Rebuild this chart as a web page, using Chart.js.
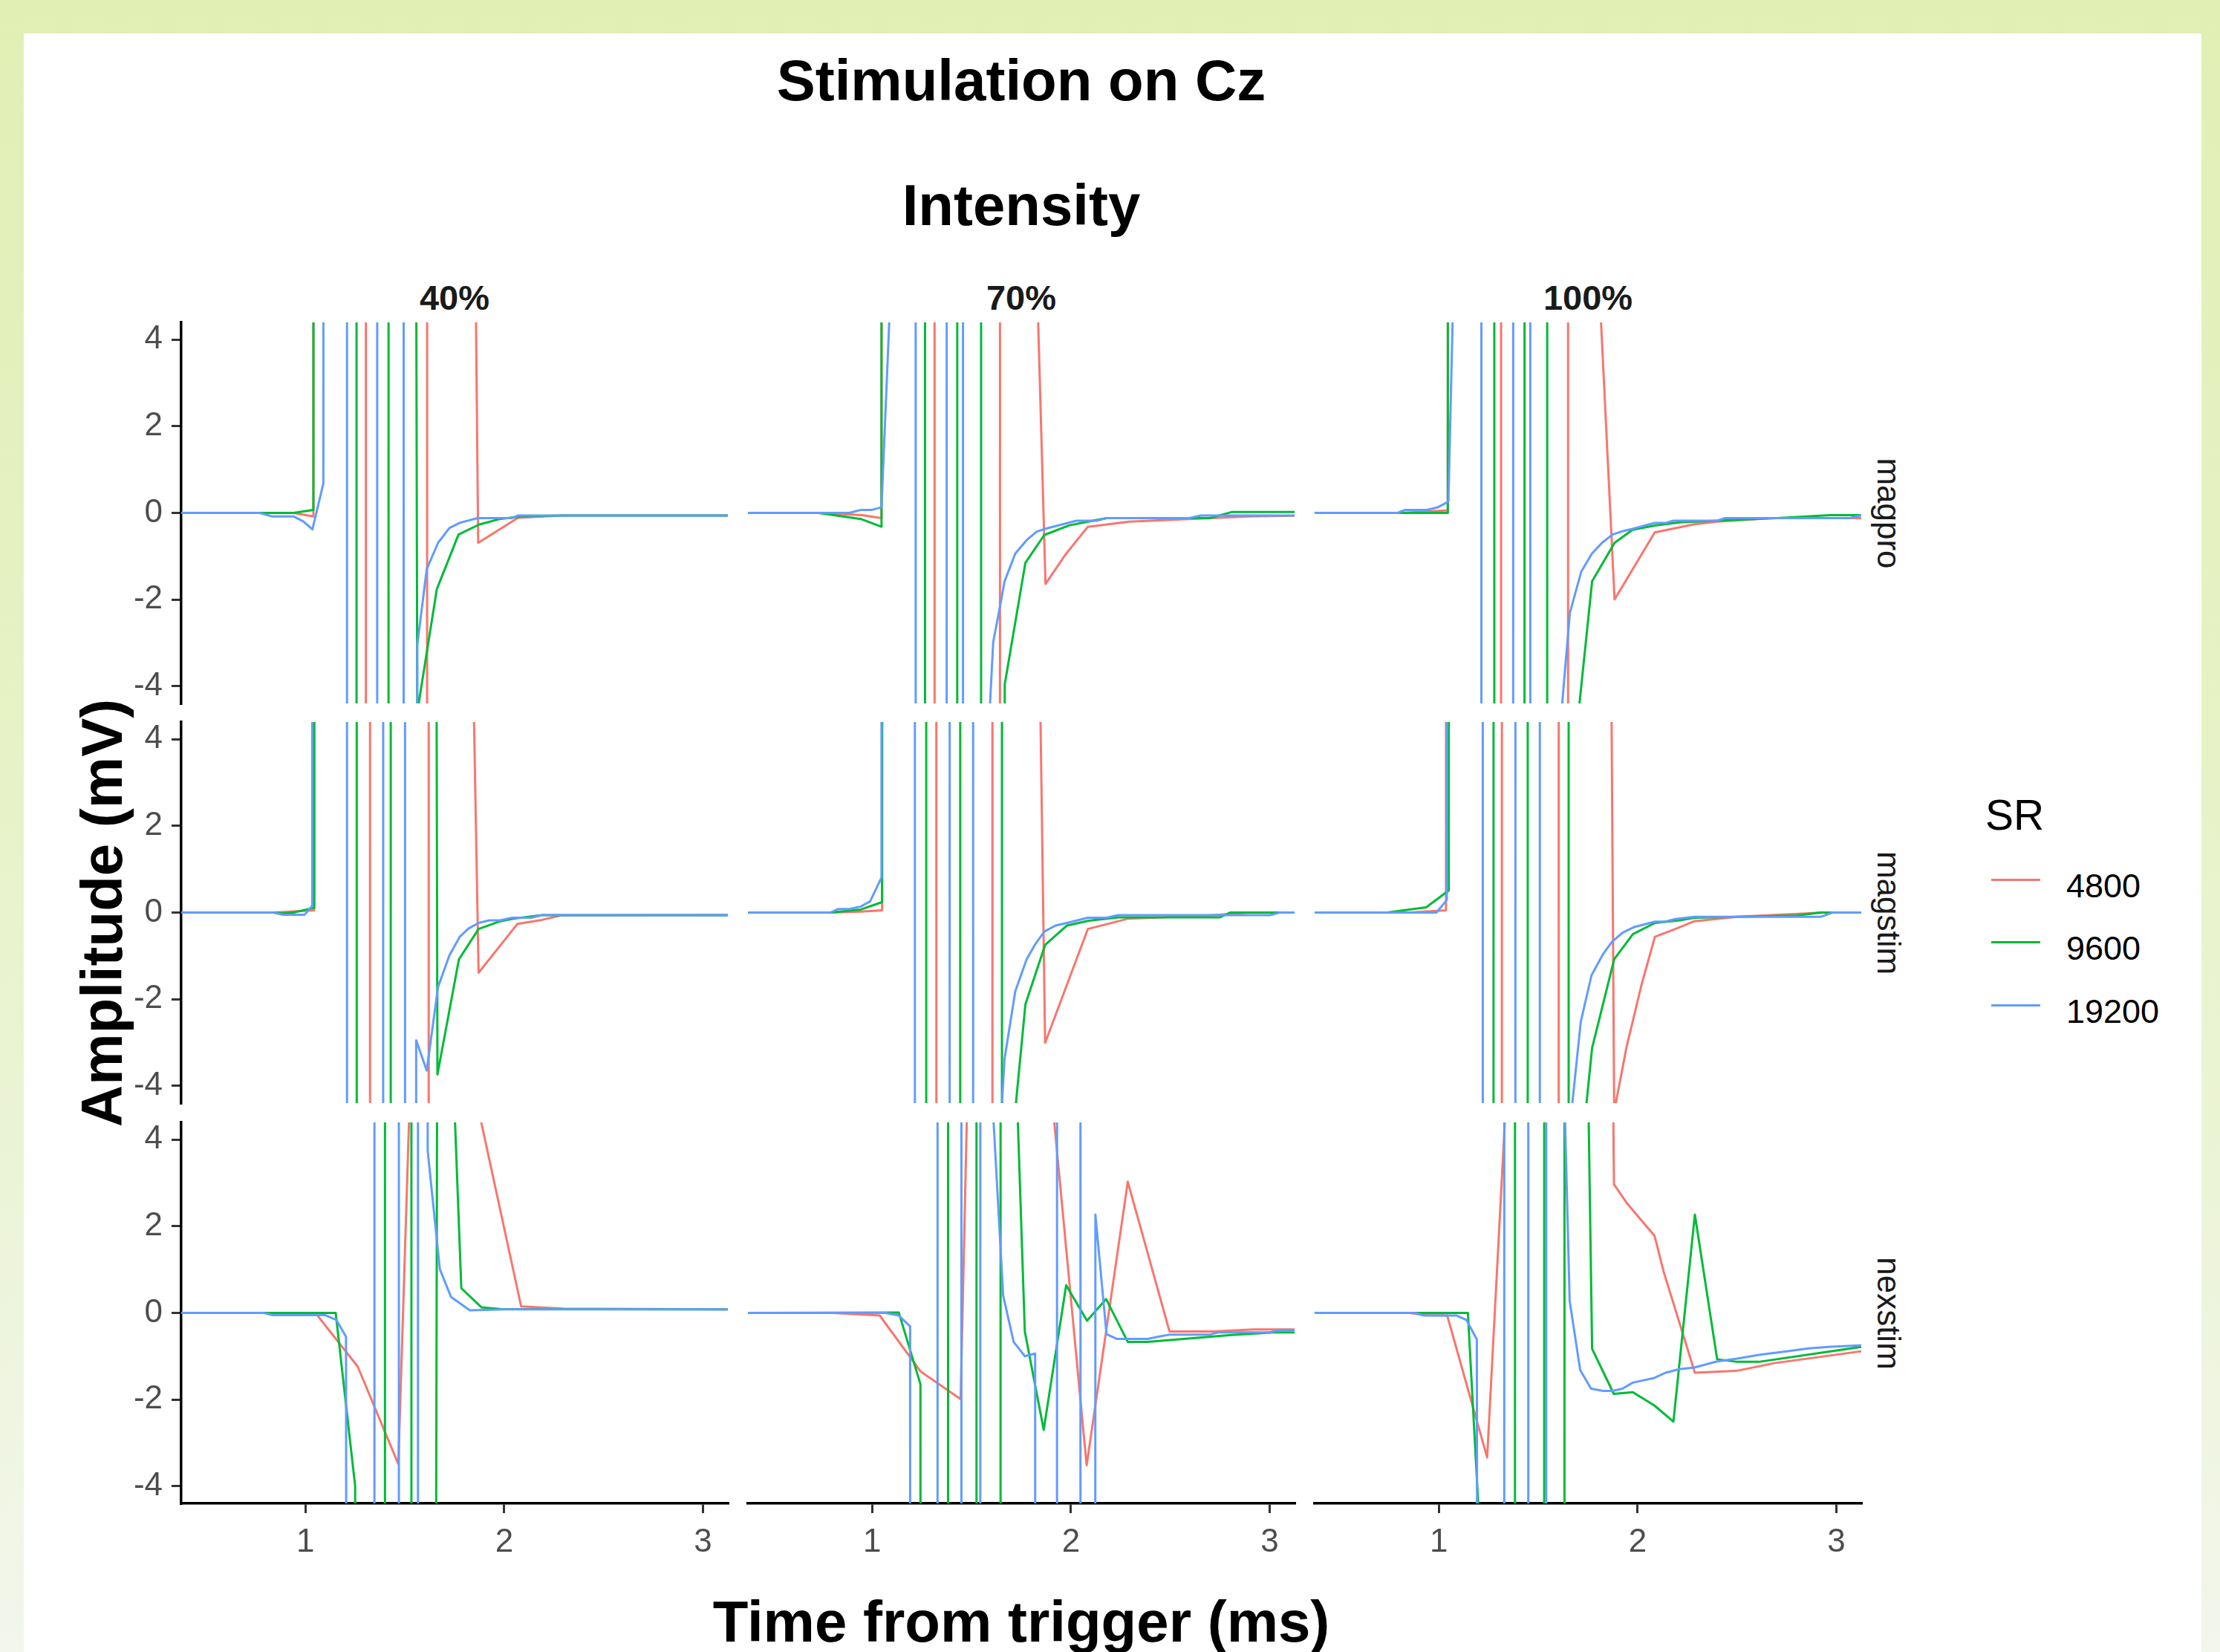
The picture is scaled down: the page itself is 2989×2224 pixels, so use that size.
<!DOCTYPE html>
<html><head><meta charset="utf-8">
<script src="https://cdn.jsdelivr.net/npm/chart.js@4.4.1/dist/chart.umd.min.js"></script>
<style>
html,body{margin:0;padding:0;}
body{width:2989px;height:2224px;position:relative;overflow:hidden;background:linear-gradient(to bottom,#e1efb4 0%,#e7f2c6 45%,#f2f6eb 100%);font-family:"Liberation Sans",Arial,Helvetica,sans-serif;}
#sheet{position:absolute;left:32px;top:45px;width:2932px;height:2179px;background:#ffffff;}
.t{position:absolute;white-space:nowrap;line-height:1;}
canvas{position:absolute;}
</style></head><body>
<div id="sheet"></div>
<script>
// ---------------- data (time in ms, amplitude in mV) ----------------
const SR_LEVELS = ['4800', '9600', '19200'];
const SR_COLORS = ['#F8766D', '#00BA38', '#619CFF'];
const STIMULATORS = ['magpro', 'magstim', 'nexstim'];
const INTENSITIES = ['40%', '70%', '100%'];
const X_TICKS = [1, 2, 3];
const Y_TICKS = [-4, -2, 0, 2, 4];

// magpro 40%
const magpro40_4800_t = [0.3, 0.94, 1.040, 1.045, 1.302, 1.306, 1.610, 1.614, 1.660, 1.869, 2.070, 2.290, 3.2];
const magpro40_4800_v = [0, 0, -0.08, 200, 200, -200, -200, 200, 96, -0.69, -0.11, -0.06, -0.06];
const magpro40_9600_t = [0.3, 0.94, 1.040, 1.045, 1.255, 1.259, 1.416, 1.420, 1.458, 1.5625, 1.661, 1.770, 1.873, 1.978, 2.083, 2.300, 3.2];
const magpro40_9600_v = [0, 0, 0.07, 200, 200, -200, -200, 200, 200, -4.6, -1.76, -0.50, -0.27, -0.14, -0.08, -0.06, -0.06];
const magpro40_19200_t = [0.3, 0.77, 0.83, 0.94, 0.99, 1.035, 1.090, 1.094, 1.207, 1.211, 1.359, 1.363, 1.492, 1.496, 1.510, 1.5625, 1.610, 1.667, 1.724, 1.776, 1.866, 2.040, 2.070, 3.2];
const magpro40_19200_v = [0, 0, -0.08, -0.08, -0.2, -0.38, 0.68, 200, 200, -200, -200, 200, 200, -200, -200, -3.05, -1.30, -0.69, -0.35, -0.23, -0.12, -0.12, -0.06, -0.06];

// magpro 70%
const magpro70_4800_t = [0.3, 0.73, 0.95, 1.047, 1.052, 1.312, 1.316, 1.641, 1.645, 1.667, 1.872, 1.971, 2.085, 2.294, 2.70, 2.90, 3.2];
const magpro70_4800_v = [0, 0, -0.05, -0.12, 200, 200, -200, -200, 200, 32, -1.64, -0.97, -0.32, -0.20, -0.12, -0.08, -0.06];
const magpro70_9600_t = [0.3, 0.73, 0.943, 1.047, 1.052, 1.264, 1.268, 1.426, 1.430, 1.546, 1.550, 1.655, 1.667, 1.771, 1.866, 1.990, 2.085, 2.180, 2.700, 2.808, 3.2];
const magpro70_9600_v = [0, 0, -0.14, -0.32, 200, 200, -200, -200, 200, 200, -200, -200, -3.96, -1.15, -0.51, -0.29, -0.20, -0.12, -0.12, 0.02, 0.02];
const magpro70_19200_t = [0.3, 0.886, 0.943, 1.0, 1.047, 1.094, 1.10, 1.217, 1.221, 1.373, 1.377, 1.455, 1.459, 1.5625, 1.609, 1.637, 1.666, 1.720, 1.777, 1.828, 1.876, 2.028, 2.130, 2.178, 2.596, 2.654, 3.2];
const magpro70_19200_v = [0, 0, 0.07, 0.07, 0.13, 5.3, 200, 200, -200, -200, 200, 200, -200, -7.1, -2.98, -2.31, -1.58, -0.94, -0.63, -0.43, -0.36, -0.18, -0.18, -0.12, -0.12, -0.06, -0.06];

// magpro 100%
const magpro100_4800_t = [0.3, 0.803, 0.936, 1.045, 1.052, 1.311, 1.315, 1.648, 1.652, 1.667, 1.884, 2.086, 2.286, 2.400, 2.670, 3.2];
const magpro100_4800_v = [0, 0, 0.03, 0.06, 200, 200, -200, -200, 200, 18.4, -2.0, -0.45, -0.26, -0.20, -0.12, -0.12];
const magpro100_9600_t = [0.3, 1.045, 1.052, 1.277, 1.281, 1.429, 1.433, 1.543, 1.547, 1.5625, 1.667, 1.771, 1.884, 1.974, 2.086, 2.210, 2.400, 2.700, 2.970, 3.2];
const magpro100_9600_v = [0, 0, 200, 200, -200, -200, 200, 200, -200, -200, -6.2, -1.58, -0.69, -0.39, -0.29, -0.22, -0.18, -0.12, -0.05, -0.05];
const magpro100_19200_t = [0.3, 0.793, 0.830, 0.940, 0.995, 1.048, 1.094, 1.146, 1.212, 1.216, 1.372, 1.376, 1.458, 1.462, 1.5625, 1.615, 1.659, 1.716, 1.770, 1.821, 1.873, 1.926, 1.974, 2.086, 2.143, 2.180, 2.400, 2.440, 3.070, 3.120, 3.2];
const magpro100_19200_v = [0, 0, 0.07, 0.07, 0.13, 0.26, 9.3, 200, 200, -200, -200, 200, 200, -200, -200, -4.7, -2.31, -1.36, -0.94, -0.69, -0.50, -0.42, -0.37, -0.23, -0.23, -0.18, -0.18, -0.12, -0.12, -0.06, -0.06];

// magstim 40%
const magstim40_4800_t = [0.3, 0.839, 1.044, 1.048, 1.323, 1.327, 1.618, 1.622, 1.667, 1.871, 2.067, 2.190, 2.285, 3.2];
const magstim40_4800_v = [0, 0, 0.05, 200, 200, -200, -200, 200, 50, -1.39, -0.26, -0.17, -0.07, -0.06];
const magstim40_9600_t = [0.3, 0.839, 0.89, 0.94, 1.044, 1.048, 1.256, 1.260, 1.427, 1.431, 1.5625, 1.664, 1.772, 1.871, 1.980, 2.046, 2.190, 3.2];
const magstim40_9600_v = [0, 0, -0.02, 0, 0.11, 200, 200, -200, -200, 200, 200, -3.74, -1.08, -0.38, -0.20, -0.14, -0.06, -0.06];
const magstim40_19200_t = [0.3, 0.839, 0.887, 0.996, 1.034, 1.037, 1.207, 1.211, 1.389, 1.393, 1.499, 1.503, 1.540, 1.557, 1.610, 1.667, 1.724, 1.776, 1.820, 1.871, 1.925, 1.980, 2.040, 2.135, 2.190, 3.2];
const magstim40_19200_v = [0, 0, -0.05, -0.05, 0.16, 200, 200, -200, -200, 200, 200, -200, -200, -2.95, -3.65, -1.72, -0.99, -0.56, -0.37, -0.24, -0.18, -0.18, -0.12, -0.12, -0.06, -0.06];

// magstim 70%
const magstim70_4800_t = [0.3, 0.79, 0.943, 1.050, 1.054, 1.321, 1.325, 1.603, 1.607, 1.667, 1.870, 2.085, 2.290, 2.690, 2.900, 3.2];
const magstim70_4800_v = [0, 0, 0.02, 0.05, 200, 200, -200, -200, 200, 62.6, -3.01, -0.38, -0.14, -0.07, 0, 0];
const magstim70_9600_t = [0.3, 0.79, 0.943, 1.050, 1.054, 1.270, 1.274, 1.441, 1.445, 1.651, 1.655, 1.667, 1.771, 1.870, 1.980, 2.090, 2.236, 2.750, 2.800, 3.2];
const magstim70_9600_v = [0, 0, 0.07, 0.24, 200, 200, -200, -200, 200, 200, -200, -7.1, -2.12, -0.75, -0.30, -0.19, -0.11, -0.11, 0, 0];
const magstim70_19200_t = [0.3, 0.79, 0.828, 0.886, 0.943, 0.990, 1.047, 1.050, 1.213, 1.217, 1.388, 1.392, 1.506, 1.510, 1.5625, 1.615, 1.666, 1.720, 1.777, 1.818, 1.866, 1.923, 1.980, 2.085, 2.180, 2.236, 3.000, 3.050, 3.2];
const magstim70_19200_v = [0, 0, 0.08, 0.08, 0.14, 0.26, 0.81, 200, 200, -200, -200, 200, 200, -200, -200, -7.4, -3.38, -1.82, -1.08, -0.75, -0.44, -0.30, -0.24, -0.12, -0.12, -0.06, -0.06, 0, 0];

// magstim 100%
const magstim100_4800_t = [0.3, 0.85, 1.036, 1.040, 1.315, 1.319, 1.601, 1.605, 1.660, 1.882, 1.943, 2.020, 2.087, 2.190, 2.286, 2.500, 2.940, 3.2];
const magstim100_4800_v = [0, 0, 0.05, 200, 200, -200, -200, 200, 150, -4.6, -3.13, -1.66, -0.56, -0.38, -0.20, -0.10, 0, 0];
const magstim100_9600_t = [0.3, 0.739, 0.936, 1.050, 1.054, 1.273, 1.277, 1.445, 1.449, 1.651, 1.655, 1.667, 1.771, 1.882, 1.976, 2.087, 2.210, 2.286, 2.800, 2.920, 3.2];
const magstim100_9600_v = [0, 0, 0.12, 0.51, 200, 200, -200, -200, 200, 200, -200, -7.8, -3.13, -1.08, -0.50, -0.24, -0.18, -0.12, -0.07, 0, 0];
const magstim100_19200_t = [0.3, 0.988, 1.040, 1.043, 1.219, 1.223, 1.383, 1.387, 1.506, 1.510, 1.615, 1.667, 1.714, 1.768, 1.826, 1.872, 1.926, 1.980, 2.087, 2.140, 2.190, 2.286, 2.920, 2.980, 3.2];
const magstim100_19200_v = [0, 0, 0.29, 200, 200, -200, -200, 200, 200, -200, -200, -4.6, -2.52, -1.45, -0.96, -0.67, -0.46, -0.34, -0.21, -0.21, -0.15, -0.10, -0.10, 0, 0];

// nexstim 40%
const nexstim40_4800_t = [0.3, 1.000, 1.057, 1.263, 1.467, 1.675, 1.875, 2.085, 2.300, 3.2];
const nexstim40_4800_v = [0, 0, -0.04, -1.24, -3.49, 27, 4.6, 0.15, 0.10, 0.08];
const nexstim40_9600_t = [0.3, 1.152, 1.250, 1.265, 1.398, 1.402, 1.531, 1.535, 1.5625, 1.667, 1.784, 1.885, 1.980, 3.2];
const nexstim40_9600_v = [0, 0, -4.0, -200, -200, 200, 200, -200, -200, 14.8, 0.57, 0.13, 0.09, 0.08];
const nexstim40_19200_t = [0.3, 0.79, 0.837, 1.098, 1.155, 1.204, 1.250, 1.345, 1.349, 1.468, 1.472, 1.564, 1.568, 1.615, 1.676, 1.732, 1.827, 2.000, 3.2];
const nexstim40_19200_v = [0, 0, -0.05, -0.05, -0.16, -0.55, -200, -200, 200, 200, -200, -200, 200, 3.74, 1.01, 0.37, 0.06, 0.08, 0.08];

// nexstim 70%
const nexstim70_4800_t = [0.3, 0.80, 1.038, 1.243, 1.445, 1.667, 1.875, 2.079, 2.286, 2.496, 2.710, 2.920, 3.2];
const nexstim70_4800_v = [0, 0, -0.06, -1.35, -1.99, 44, 6.4, -3.52, 3.03, -0.43, -0.43, -0.38, -0.38];
const nexstim70_9600_t = [0.3, 1.134, 1.243, 1.247, 1.380, 1.384, 1.523, 1.527, 1.644, 1.648, 1.667, 1.768, 1.863, 1.976, 2.081, 2.177, 2.286, 2.386, 2.806, 3.020, 3.2];
const nexstim70_9600_v = [0, 0.01, -1.65, -200, -200, 200, 200, -200, -200, 200, 13.5, -0.43, -2.70, 0.64, -0.18, 0.32, -0.67, -0.67, -0.51, -0.45, -0.45];
const nexstim70_19200_t = [0.3, 1.067, 1.134, 1.191, 1.199, 1.327, 1.331, 1.447, 1.451, 1.542, 1.546, 1.605, 1.659, 1.712, 1.768, 1.820, 1.824, 1.928, 1.932, 2.046, 2.050, 2.110, 2.123, 2.179, 2.230, 2.386, 2.440, 2.500, 2.700, 2.740, 3.000, 3.050, 3.2];
const nexstim70_19200_v = [0, 0, -0.06, -0.31, -200, -200, 200, 200, -200, -200, 200, 4.9, 0.40, -0.67, -1.00, -0.94, -200, -200, 200, 200, -200, -200, 2.27, -0.49, -0.60, -0.60, -0.55, -0.50, -0.50, -0.45, -0.45, -0.40, -0.40];

// nexstim 100%
const nexstim100_4800_t = [0.3, 0.85, 0.93, 1.042, 1.243, 1.458, 1.667, 1.881, 1.945, 2.085, 2.131, 2.288, 2.495, 2.688, 3.118, 3.2];
const nexstim100_4800_v = [0, 0, -0.05, -0.06, -3.34, 15.4, 100, 2.97, 2.54, 1.78, 0.95, -1.38, -1.34, -1.16, -0.89, -0.87];
const nexstim100_9600_t = [0.3, 1.146, 1.250, 1.300, 1.381, 1.385, 1.528, 1.532, 1.630, 1.634, 1.667, 1.771, 1.880, 1.976, 2.085, 2.180, 2.288, 2.400, 2.500, 2.610, 3.118, 3.2];
const nexstim100_9600_v = [0, 0, -8.8, -200, -200, 200, 200, -200, -200, 200, 31, -0.83, -1.87, -1.83, -2.14, -2.51, 2.27, -1.07, -1.13, -1.13, -0.79, -0.77];
const nexstim100_19200_t = [0.3, 0.879, 0.926, 1.088, 1.138, 1.191, 1.250, 1.327, 1.331, 1.448, 1.452, 1.538, 1.542, 1.615, 1.658, 1.711, 1.766, 1.827, 1.875, 1.923, 1.976, 2.085, 2.142, 2.209, 2.286, 2.400, 2.496, 2.610, 2.764, 2.860, 2.975, 3.118, 3.2];
const nexstim100_19200_v = [0, 0, -0.06, -0.06, -0.16, -0.61, -200, -200, 200, 200, -200, -200, 200, 8, 0.28, -1.32, -1.75, -1.80, -1.80, -1.75, -1.61, -1.50, -1.38, -1.30, -1.26, -1.12, -1.06, -0.97, -0.88, -0.82, -0.78, -0.75, -0.74];

// ---------------- assemble ----------------
const SERIES = {
  magpro: {
    '40%': [[magpro40_4800_t, magpro40_4800_v], [magpro40_9600_t, magpro40_9600_v], [magpro40_19200_t, magpro40_19200_v]],
    '70%': [[magpro70_4800_t, magpro70_4800_v], [magpro70_9600_t, magpro70_9600_v], [magpro70_19200_t, magpro70_19200_v]],
    '100%': [[magpro100_4800_t, magpro100_4800_v], [magpro100_9600_t, magpro100_9600_v], [magpro100_19200_t, magpro100_19200_v]]
  },
  magstim: {
    '40%': [[magstim40_4800_t, magstim40_4800_v], [magstim40_9600_t, magstim40_9600_v], [magstim40_19200_t, magstim40_19200_v]],
    '70%': [[magstim70_4800_t, magstim70_4800_v], [magstim70_9600_t, magstim70_9600_v], [magstim70_19200_t, magstim70_19200_v]],
    '100%': [[magstim100_4800_t, magstim100_4800_v], [magstim100_9600_t, magstim100_9600_v], [magstim100_19200_t, magstim100_19200_v]]
  },
  nexstim: {
    '40%': [[nexstim40_4800_t, nexstim40_4800_v], [nexstim40_9600_t, nexstim40_9600_v], [nexstim40_19200_t, nexstim40_19200_v]],
    '70%': [[nexstim70_4800_t, nexstim70_4800_v], [nexstim70_9600_t, nexstim70_9600_v], [nexstim70_19200_t, nexstim70_19200_v]],
    '100%': [[nexstim100_4800_t, nexstim100_4800_v], [nexstim100_9600_t, nexstim100_9600_v], [nexstim100_19200_t, nexstim100_19200_v]]
  }
};

// ---------------- layout ----------------
const FONT = '"Liberation Sans", Arial, Helvetica, sans-serif';
const PANEL_LEFT = [244, 1007, 1770];
const PANEL_TOP = [434, 972, 1511];
const PANEL_W = 736, PANEL_H = 513;
const X_MIN = 0.375, X_MAX = 3.125, Y_MIN = -4.4, Y_MAX = 4.4;
const MARGIN = 50, Y_AXIS_W = 120, X_AXIS_H = 90;
const LINE_W = 3;

function addText(txt, opts) {
  const d = document.createElement('div');
  d.className = 't';
  d.textContent = txt;
  d.style.fontSize = opts.size + 'px';
  d.style.fontWeight = opts.bold ? 'bold' : 'normal';
  d.style.color = opts.color || '#000';
  if (opts.rotate) {
    d.style.left = opts.x + 'px';
    d.style.top = opts.y + 'px';
    d.style.transform = 'translate(-50%,-50%) rotate(' + opts.rotate + 'deg)';
  } else {
    d.style.top = (opts.baseline - 0.8465 * opts.size) + 'px';
    d.style.left = opts.x + 'px';
    if (opts.center) d.style.transform = 'translateX(-50%)';
  }
  document.body.appendChild(d);
}

const plotCenter = (PANEL_LEFT[0] + PANEL_LEFT[2] + PANEL_W) / 2;
addText('Stimulation on Cz', {x: plotCenter, baseline: 135, size: 78, bold: true, center: true});
addText('Intensity', {x: plotCenter, baseline: 303, size: 78, bold: true, center: true});
addText('Time from trigger (ms)', {x: plotCenter, baseline: 2210, size: 78, bold: true, center: true});
addText('Amplitude (mV)', {x: 137, y: (PANEL_TOP[0] + PANEL_TOP[2] + PANEL_H) / 2, size: 78, bold: true, rotate: -90});
INTENSITIES.forEach((lab, c) => addText(lab, {x: PANEL_LEFT[c] + PANEL_W / 2, baseline: 417, size: 47, bold: true, color: '#1a1a1a', center: true}));
STIMULATORS.forEach((lab, r) => addText(lab, {x: 2543, y: PANEL_TOP[r] + PANEL_H / 2, size: 44, color: '#1a1a1a', rotate: 90}));

// legend
addText('SR', {x: 2673, baseline: 1117, size: 57});
const LEG_KEY_Y = [1184, 1268, 1353];
const LEG_LAB_BASE = [1208, 1292, 1377];
SR_LEVELS.forEach((lab, i) => {
  const k = document.createElement('div');
  k.style.cssText = 'position:absolute;left:2681px;width:66px;height:3px;top:' + (LEG_KEY_Y[i] - 1.5) + 'px;background:' + SR_COLORS[i];
  document.body.appendChild(k);
  addText(lab, {x: 2782, baseline: LEG_LAB_BASE[i], size: 45});
});

// ---------------- panels ----------------
function makePanel(r, c) {
  const isLeft = c === 0, isBottom = r === STIMULATORS.length - 1;
  const yW = isLeft ? Y_AXIS_W : 0, xH = isBottom ? X_AXIS_H : 0;
  const w = MARGIN * 2 + yW + PANEL_W;
  const h = MARGIN * 2 + PANEL_H + xH;
  const cv = document.createElement('canvas');
  cv.width = w; cv.height = h;
  cv.style.width = w + 'px'; cv.style.height = h + 'px';
  cv.style.left = (PANEL_LEFT[c] - MARGIN - yW) + 'px';
  cv.style.top = (PANEL_TOP[r] - MARGIN) + 'px';
  document.body.appendChild(cv);

  const ser = SERIES[STIMULATORS[r]][INTENSITIES[c]];
  const datasets = ser.map((s, i) => ({
    label: SR_LEVELS[i],
    data: s[0].map((t, k) => ({x: t, y: s[1][k]})),
    borderColor: SR_COLORS[i],
    backgroundColor: SR_COLORS[i],
    borderWidth: LINE_W,
    borderJoinStyle: 'round',
    borderCapStyle: 'butt',
    pointRadius: 0, pointHoverRadius: 0,
    fill: false, tension: 0, clip: 0,
    order: SR_LEVELS.length - i
  }));

  const axisCommon = {
    border: {display: true, color: '#000000', width: 3.5},
    grid: {display: true, drawOnChartArea: false, drawTicks: true, tickLength: 13, color: '#333333', lineWidth: 3},
  };

  new Chart(cv, {
    type: 'line',
    data: {datasets},
    options: {
      responsive: false, animation: false, devicePixelRatio: 1, events: [],
      layout: {padding: {left: MARGIN, right: MARGIN, top: MARGIN, bottom: MARGIN}},
      plugins: {legend: {display: false}, tooltip: {enabled: false}, title: {display: false}},
      scales: {
        x: Object.assign({
          type: 'linear', min: X_MIN, max: X_MAX, display: isBottom,
          afterBuildTicks: s => { s.ticks = X_TICKS.map(v => ({value: v})); },
          afterFit: s => { s.height = isBottom ? X_AXIS_H : 0; },
          ticks: {color: '#4d4d4d', font: {family: FONT, size: 44}, padding: 13, maxRotation: 0, autoSkip: false, callback: v => String(v)}
        }, axisCommon),
        y: Object.assign({
          type: 'linear', min: Y_MIN, max: Y_MAX, display: isLeft,
          afterBuildTicks: s => { s.ticks = Y_TICKS.map(v => ({value: v})); },
          afterFit: s => { s.width = isLeft ? Y_AXIS_W : 0; },
          ticks: {color: '#4d4d4d', font: {family: FONT, size: 44}, padding: 12, autoSkip: false, callback: v => String(v)}
        }, axisCommon)
      }
    }
  });
}

for (let r = 0; r < STIMULATORS.length; r++)
  for (let c = 0; c < INTENSITIES.length; c++) makePanel(r, c);
</script>
</body></html>
